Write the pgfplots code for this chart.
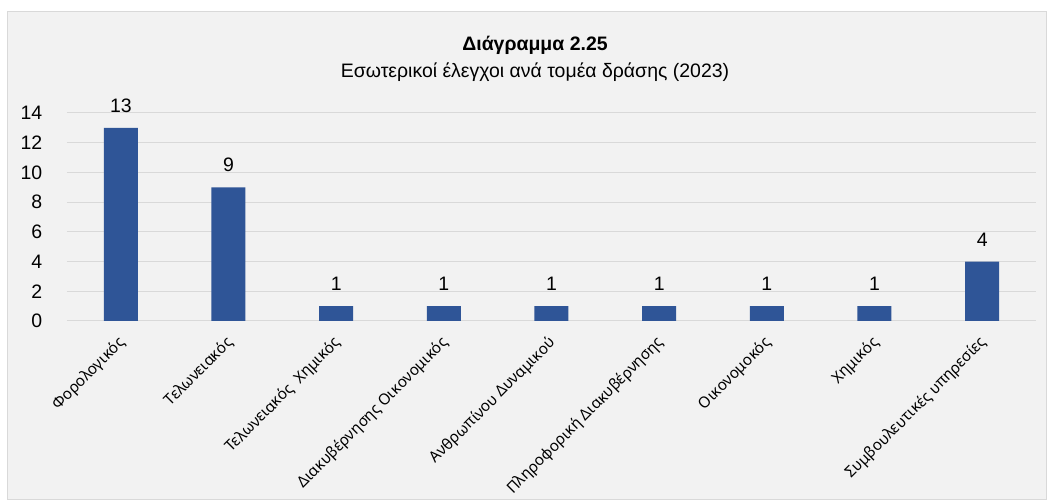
\documentclass[border=0pt]{standalone}
\usepackage{fontspec}
\setmainfont{Liberation Sans}
\newfontfamily\catfont{Noto Sans}
\usepackage{pgfplots}
\pgfplotsset{compat=1.18}
\definecolor{barblue}{RGB}{47,85,151}
\definecolor{panelbg}{RGB}{242,242,242}
\definecolor{gridgray}{RGB}{217,217,217}

% sizes: 1 px of the reference = 0.75pt
\begin{document}
\begin{tikzpicture}
\path[use as bounding box] (0pt,0pt) rectangle (788.25pt,376.5pt);
\draw[gridgray, fill=panelbg, line width=0.75pt] (5.25pt,1.5pt) rectangle (784.5pt,367.5pt);
\node[font=\bfseries\fontsize{14.6}{17}\selectfont] at (401.25pt,342.75pt) {Διάγραμμα 2.25};
\node[font=\fontsize{14.6}{17}\selectfont] at (401.25pt,322.5pt) {Εσωτερικοί έλεγχοι ανά τομέα δράσης (2023)};
\begin{axis}[
    at={(50.25pt,135.75pt)}, anchor=south west,
    scale only axis,
    width=726.75pt, height=156pt,
    ybar, bar width=25.5pt,
    xmin=-0.5, xmax=8.5,
    ymin=0, ymax=14,
    ytick={0,2,...,14},
    xtick={0,...,8},
    xticklabels={Φορολογικός, Τελωνειακός, Τελωνειακός~ Χημικός, Διακυβέρνησης Οικονομικός, Ανθρωπίνου Δυναμικού, Πληροφορική Διακυβέρνησης, Οικονομοκός, Χημικός, Συμβουλευτικές υπηρεσίες},
    axis line style={draw=none},
    major tick length=0pt,
    ymajorgrids,
    grid style={gridgray, line width=0.75pt},
    /pgf/number format/assume math mode=true,
    yticklabel style={font=\fontsize{14.6}{17}\selectfont, xshift=-15pt},
    xticklabel style={font=\catfont\fontsize{11.5}{13}\selectfont, xshift=4pt, yshift=-12pt, rotate=45, anchor=east},
    nodes near coords,
    nodes near coords style={font=\fontsize{14.6}{17}\selectfont, yshift=8pt},
]
\addplot[fill=barblue, draw=none] coordinates {(0,13) (1,9) (2,1) (3,1) (4,1) (5,1) (6,1) (7,1) (8,4)};
\end{axis}
\end{tikzpicture}
\end{document}
